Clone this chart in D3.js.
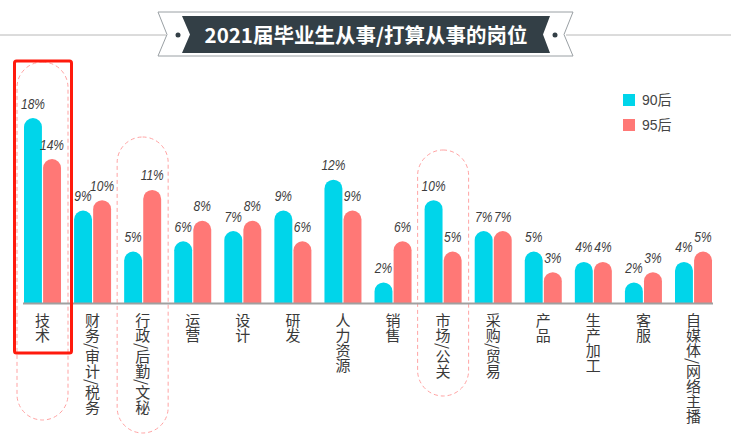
<!DOCTYPE html>
<html><head><meta charset="utf-8">
<script src="https://cdn.jsdelivr.net/npm/d3@7/dist/d3.min.js"></script>
<style>
body{margin:0;background:#fff;}
svg{display:block;}
</style></head>
<body>
<svg id="c" width="731" height="435"></svg>
<script>
const title = "2021届毕业生从事/打算从事的岗位";
const categories = ["技术","财务/审计/税务","行政/后勤/文秘","运营","设计","研发","人力资源","销售","市场/公关","采购/贸易","产品","生产加工","客服","自媒体/网络主播"];
const seriesNames = ["90后","95后"];
const values90 = [18,9,5,6,7,9,12,2,10,7,5,4,2,4];
const values95 = [14,10,11,8,8,6,9,6,5,7,3,4,3,5];
const seriesColors = ["#00d5ea","#ff7876"];
const highlighted = [0,2,8];   // dashed outline groups
const dashedBounds = [[62,420],[137,433],[150,396]];
const boxed = 0;

const svg = d3.select("#c");
const y0 = 303;
const x = d3.scaleBand().domain(categories).range([24,712]).paddingInner(0.261).paddingOuter(0);
const x1 = d3.scaleBand().domain(seriesNames).range([0,x.bandwidth()]).paddingInner(0.06);
const y = d3.scaleLinear().domain([0,18]).range([y0,118]);

// title banner
const g0 = svg.append("g");
g0.append("line").attr("x1",0).attr("x2",166).attr("y1",35).attr("y2",35).attr("stroke","#b8b8b8").attr("stroke-width",1);
g0.append("line").attr("x1",566).attr("x2",731).attr("y1",35).attr("y2",35).attr("stroke","#b8b8b8").attr("stroke-width",1);
g0.append("polygon").attr("points","158,12 573,12 564,34.5 573,56 158,56 167,34.5")
  .attr("fill","#fff").attr("stroke","#9aa0a4").attr("stroke-width",1);
g0.append("polygon").attr("points","182,16 550,16 543,34.5 550,53 182,53 190,34.5").attr("fill","#333f46");
g0.append("circle").attr("cx",178).attr("cy",35).attr("r",2.5).attr("fill","#333f46");
g0.append("circle").attr("cx",555).attr("cy",35).attr("r",2.5).attr("fill","#333f46");
g0.append("text").attr("x",366).attr("y",43).attr("text-anchor","middle")
  .attr("font-family","'Noto Sans CJK SC','Noto Sans',sans-serif").attr("font-weight","bold")
  .attr("font-size",20.5).attr("fill","#fff").text(title);

// dashed outlines
highlighted.forEach((i,k)=>{
  const cx = x(categories[i]) + x.bandwidth()/2;
  const w = 51, top = dashedBounds[k][0], bot = dashedBounds[k][1];
  svg.append("rect").attr("x",cx-w/2).attr("y",top).attr("width",w).attr("height",bot-top)
    .attr("rx",w/2).attr("ry",w/2).attr("fill","none").attr("stroke","#ffa3a3")
    .attr("stroke-width",1).attr("stroke-dasharray","4,3");
});

// bars
const data = categories.map((c,i)=>({c, v:[values90[i],values95[i]]}));
const groups = svg.append("g").selectAll("g").data(data).join("g")
  .attr("transform",d=>`translate(${x(d.c)},0)`);
function barPath(bx,w,top){
  const r = w/2;
  return `M${bx},${y0}V${top+r}A${r},${r} 0 0 1 ${bx+w},${top+r}V${y0}Z`;
}
groups.each(function(d){
  const g = d3.select(this);
  seriesNames.forEach((s,j)=>{
    const bx = x1(s), w = x1.bandwidth(), top = y(d.v[j]);
    g.append("path").attr("d",barPath(bx,w,top)).attr("fill",seriesColors[j]);
    g.append("text").attr("transform",`translate(${bx+w/2},${top-9.5}) scale(0.8,1)`)
      .attr("text-anchor","middle")
      .attr("font-family","'Liberation Sans',Arial,sans-serif").attr("font-style","italic")
      .attr("font-size",15).attr("fill","#3c3c3c").text(d.v[j]+"%");
  });
});

// baseline
svg.append("line").attr("x1",23).attr("x2",713).attr("y1",y0+0.5).attr("y2",y0+0.5)
  .attr("stroke","#a0a0a0").attr("stroke-width",2);

// category labels (vertical)
svg.append("g").selectAll("text").data(categories).join("text")
  .attr("x",d=>x(d)+x.bandwidth()/2).attr("y",313)
  .attr("style","writing-mode: vertical-rl; text-orientation: mixed;")
  .attr("font-family","'Noto Sans CJK SC',sans-serif").attr("font-size",15)
  .attr("fill","#3a3a3a").text(d=>d);

// red box
const bcx = x(categories[boxed]) + x.bandwidth()/2;
svg.append("rect").attr("x",bcx-28).attr("y",61).attr("width",57).attr("height",292)
  .attr("rx",2).attr("fill","none").attr("stroke","#ff1a0d").attr("stroke-width",3);

// legend
const lg = svg.append("g").selectAll("g").data(seriesNames).join("g")
  .attr("transform",(d,i)=>`translate(623,${94+i*25})`);
lg.append("rect").attr("width",12).attr("height",12).attr("fill",(d,i)=>seriesColors[i]);
lg.append("text").attr("x",19).attr("y",11).attr("font-family","'Liberation Sans','Noto Sans CJK SC',sans-serif")
  .attr("font-size",14).attr("fill","#444").text(d=>d);
</script>
</body></html>
